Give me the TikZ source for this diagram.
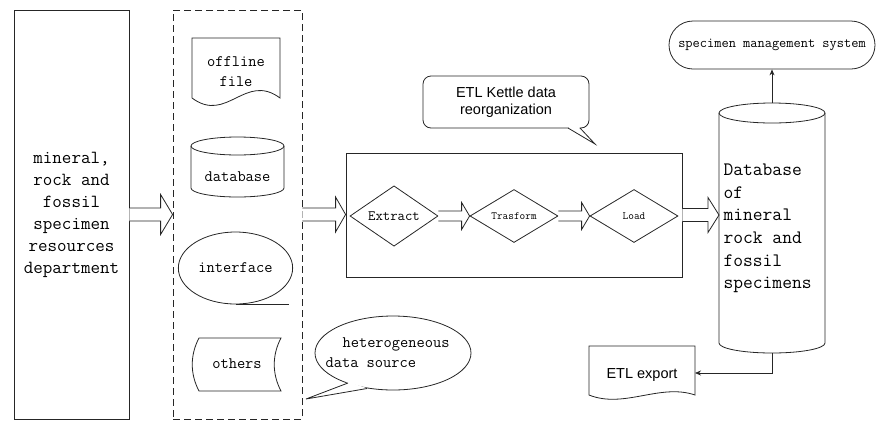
\documentclass[tikz,border=0pt]{standalone}
\usepackage{fontspec}
\newfontfamily\sansf{Liberation Sans}
\usetikzlibrary{shapes.geometric,arrows.meta,calc}
\definecolor{ln}{gray}{0.15}
\newcommand\blkarrow[5]{%
  \draw[blk] let \p1=#1, \p2=#2 in
    (\x1,\y1+#3) -- (\x2-#5,\y1+#3) -- (\x2-#5,\y1+#4) -- (\x2,\y1)
    -- (\x2-#5,\y1-#4) -- (\x2-#5,\y1-#3) -- (\x1,\y1-#3);}
\tikzset{
  base/.style={draw=ln, line width=0.8pt},
  blk/.style={draw=ln, line width=0.8pt, fill=white},
  monoM/.style={font=\ttfamily\fontsize{16}{20}\selectfont, align=center},
  sanstext/.style={font=\sansf\fontsize{14.5}{17}\selectfont, align=center},
  dia/.style={base, diamond, minimum width=88pt, minimum height=53pt, inner sep=0pt},
  tip/.style={-{Stealth[length=6pt,width=5pt]}}
}
\begin{document}
\begin{tikzpicture}[x=1pt,y=-1pt]
\useasboundingbox (0,0) rectangle (880,421);

% left department box
\node[base, rectangle, minimum width=115pt, minimum height=409pt, align=center,
      font=\ttfamily\fontsize{18.5}{22}\selectfont] (left) at (71.5,214.5)
      {mineral,\\rock and\\fossil\\specimen\\resources\\department};

% dashed container
\node[draw=ln, line width=0.8pt, dash pattern=on 7pt off 4pt, minimum width=129pt,
      minimum height=409pt] (dash) at (237.5,214.5) {};

% offline file (document)
\draw[base] (192,38) -- (280,38) -- (280,98)
  .. controls (245,72) and (227,124) .. (192,98) -- cycle;
\node[monoM] (off) at (236,72) {offline\\file};

% database cylinder (small)
\draw[base] (191,146) -- (191,188) arc[start angle=180, end angle=360, x radius=46.5pt, y radius=9pt] -- (284,146);
\draw[base] (237.5,146) ellipse[x radius=46.5pt, y radius=9pt];
\node[monoM] (dbs) at (237.5,177) {database};

% interface (tape)
\node[base, ellipse, minimum width=105pt, minimum height=72pt, monoM] (iface) at (235.5,268) {interface};
\draw[base] (iface.south) -- ++(53,0);

% others (stored data)
\draw[base] (199,338) -- (281,338) .. controls (272,355) and (272,374) .. (281,391)
  -- (199,391) .. controls (190,374) and (190,355) .. (199,338) -- cycle;
\node[monoM] (oth) at (237,364) {others};

% heterogeneous callout
\draw[base] (393,353) ellipse[x radius=78pt, y radius=37pt];
\fill[white] (348.5,382) -- (306,399) -- (366.5,388) -- cycle;
\draw[base] (348,383) -- (306,399) -- (367,388.5);
\node[monoM, align=left, anchor=west] (het) at (322,353)
  {\hspace*{17pt}heterogeneous\\data source};

% ETL Kettle callout
\node[base, rounded corners=8pt, minimum width=166pt, minimum height=52pt, sanstext] (kettle) at (506,102)
  {ETL Kettle data\\reorganization};
\fill[white] (568.5,127) -- (568.5,128.5) -- (595,144) -- (579.5,128.5) -- (579.5,127) -- cycle;
\draw[base] (568,128) -- (595,144) -- (580,128);

% ETL process box
\node[base, minimum width=336pt, minimum height=124pt] (etl) at (514,215) {};
\node[dia, font=\ttfamily\fontsize{14.3}{16}\selectfont] (ext) at (394,216) {Extract};
\node[dia, font=\ttfamily\fontsize{11}{13}\selectfont] (tra) at (514,216) {Trasform};
\node[dia, font=\ttfamily\fontsize{11}{13}\selectfont] (load) at (634,216) {Load};

% big database cylinder
\draw[base] (719,113) -- (719,343) arc[start angle=180, end angle=360, x radius=53pt, y radius=10pt] -- (825,113);
\draw[base] (772,113) ellipse[x radius=53pt, y radius=10pt];
\coordinate (dbtop) at (772,103);
\coordinate (dbbot) at (772,353);
\coordinate (dbw) at (719,215);
\node[align=left, anchor=west, font=\ttfamily\fontsize{19}{22.6}\selectfont] (dbt) at (720,228.5)
  {Database\\of\\mineral\\rock and\\fossil\\specimens};

% specimen management system
\node[base, rounded corners=24pt, minimum width=206pt, minimum height=48pt,
      font=\ttfamily\fontsize{14}{16}\selectfont] (sms) at (772,45) {specimen management system};
\draw[base, tip] (dbtop) -- (sms.south);

% ETL export document
\draw[base] (589,346) -- (695,346) -- (695,395)
  .. controls (660,383) and (624,409) .. (589,395) -- cycle;
\node[sanstext] (exp) at (642,375) {ETL export};
\coordinate (expe) at (695,373);
\draw[base, tip] (dbbot) |- (expe);

% block arrows
\blkarrow{(left.east)}{(dash.west)}{6.5pt}{20pt}{12pt}
\blkarrow{(dash.east)}{(etl.west)}{6.5pt}{17.5pt}{10pt}
\blkarrow{(ext.east)}{(tra.west)}{5pt}{13.5pt}{8pt}
\blkarrow{(tra.east)}{(load.west)}{5pt}{13.5pt}{8pt}
\blkarrow{(etl.east)}{(dbw)}{6.5pt}{17.5pt}{11pt}
\end{tikzpicture}
\end{document}
